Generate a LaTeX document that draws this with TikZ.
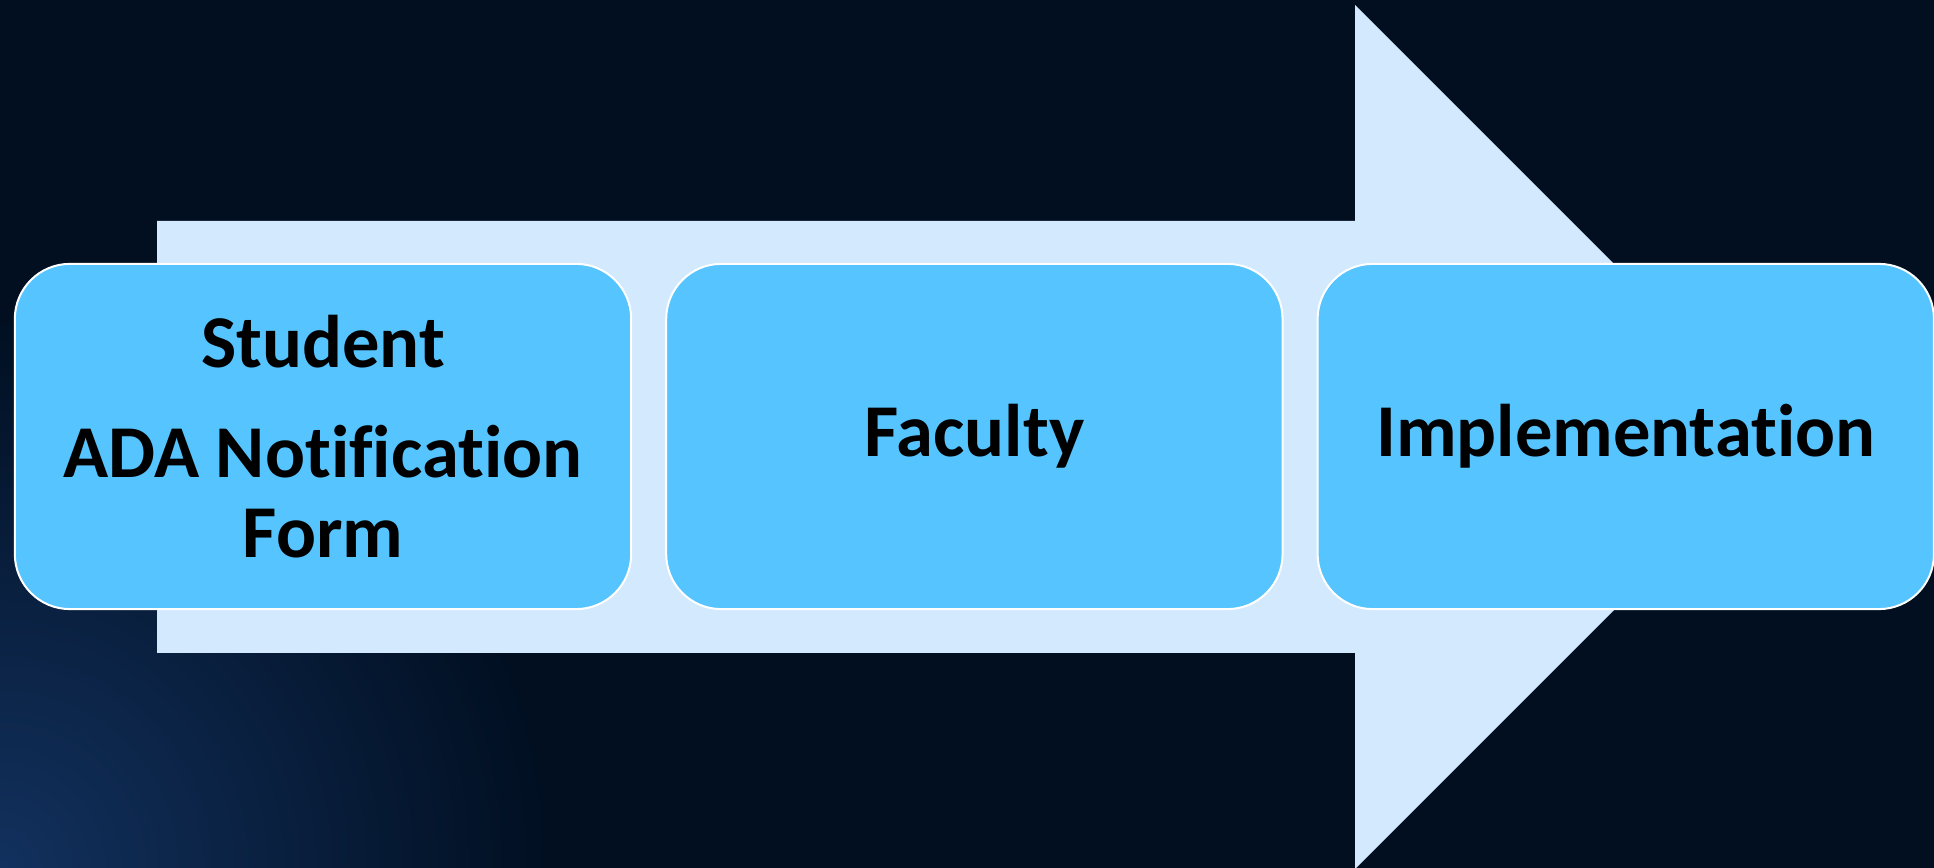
\documentclass[tikz,border=0pt]{standalone}
\usepackage{fontspec}
\setmainfont{Carlito}[Ligatures={NoCommon,NoRequired,NoContextual}]
\usepackage{tikz}
\usetikzlibrary{shapes,positioning,calc}
\usepackage{xcolor}
\definecolor{bgnavy}{HTML}{010F21}
\definecolor{glowblue}{HTML}{12315E}
\definecolor{arrowpale}{HTML}{D3E9FE}
\definecolor{boxblue}{HTML}{56C4FE}

\begin{document}
\begin{tikzpicture}[x=0.01cm,y=-0.01cm,
    stage/.style={draw=white, line width=0.02cm, fill=boxblue, rounded corners=0.55cm,
      minimum width=6.16cm, minimum height=3.45cm, inner sep=0pt, align=center,
      text=black, font=\bfseries\fontsize{21.2}{22.5}\selectfont},
    node distance=0.33cm]
            % Background
            \fill[bgnavy] (0,0) rectangle (1934,868);
            \begin{scope}
                \clip (0,0) rectangle (1934,868);
                \shade[inner color=glowblue, outer color=bgnavy] (0,868) circle (5.5cm);
            \end{scope}
            \useasboundingbox (0,0) rectangle (1934,868);

            % Arrow
            \fill[arrowpale] (157,221) -- (1355,221) -- (1355,5) -- (1787,437)
                -- (1355,869) -- (1355,653) -- (157,653) -- cycle;

            % Stages
            \node[stage] (student) at (323,436.5) {Student\\[0.31cm]ADA Notification\\Form};
            \node[stage, right=of student] (faculty) {Faculty};
            \node[stage, right=of faculty] (implementation) {Implementation};
        \end{tikzpicture}
\end{document}
